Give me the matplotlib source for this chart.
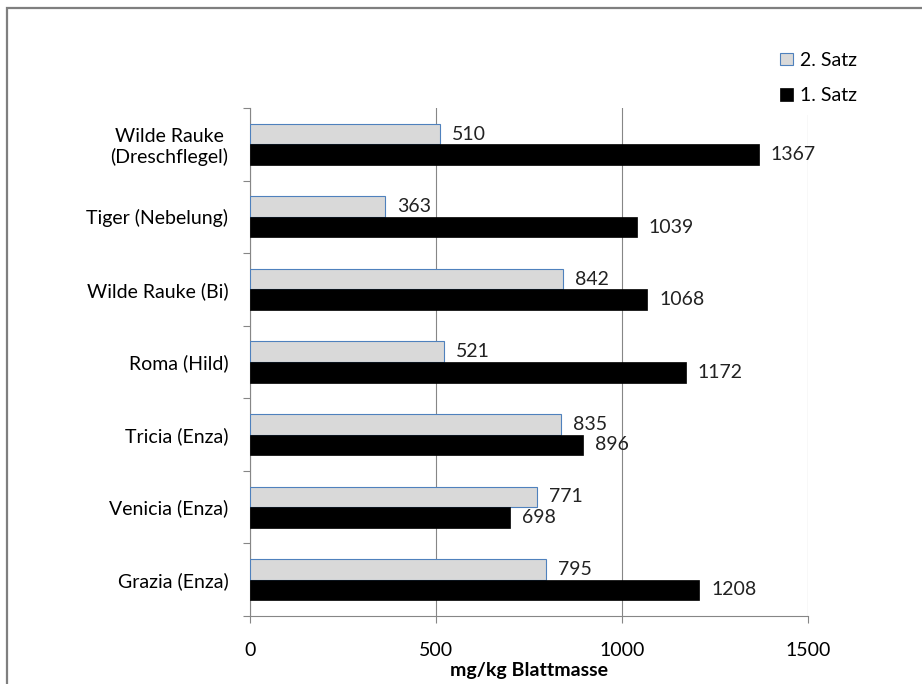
import matplotlib.pyplot as plt
import matplotlib.patches as mpatches
import numpy as np

# Sorten (von oben nach unten) und Nitratwerte in mg/kg Blattmasse
sorten = ["Wilde Rauke\n(Dreschflegel)", "Tiger (Nebelung)", "Wilde Rauke (Bi)",
          "Roma (Hild)", "Tricia (Enza)", "Venicia (Enza)", "Grazia (Enza)"]
satz2 = [510, 363, 842, 521, 835, 771, 795]
satz1 = [1367, 1039, 1068, 1172, 896, 698, 1208]
x_ticks = [0, 500, 1000, 1500]

plt.rcParams['font.family'] = ['Lato', 'DejaVu Sans']
fs = 14
axis_grey = '#868686'

W, H = 922, 684
fig = plt.figure(figsize=(W / 100, H / 100), dpi=100)
ax = fig.add_axes([250 / W, 1 - 616 / H, (808 - 250) / W, (616 - 108) / H])

# outer chart frame (only top and left edges visible)
fig.add_artist(mpatches.Rectangle((7 / W, -0.2), 1.5, 1.2 - 8 / H,
                                  transform=fig.transFigure, fill=False,
                                  edgecolor='#7f7f7f', lw=1.6, clip_on=False))

y = np.arange(len(sorten))
bw = 0.283
b2 = ax.barh(y - bw / 2, satz2, height=bw, color='#d9d9d9', edgecolor='#4f81bd',
             lw=0.8, label='2. Satz', zorder=3)
b1 = ax.barh(y + bw / 2, satz1, height=bw, color='black', edgecolor='black',
             lw=0.5, label='1. Satz', zorder=3)

# Datenbeschriftungen rechts neben den Balken
for bars, vals in [(b2, satz2), (b1, satz1)]:
    for rect, v in zip(bars, vals):
        ax.annotate(str(v), (v, rect.get_y() + rect.get_height() / 2),
                    xytext=(8.6, 0), textcoords='offset points',
                    ha='left', va='center', fontsize=fs, color='#222222', zorder=2)

ax.set_xlim(0, 1500)
ax.set_ylim(len(sorten) - 0.5, -0.5)

ax.set_xticks(x_ticks)
ax.set_xticklabels([str(t) for t in x_ticks], fontsize=fs)
ax.tick_params(axis='x', direction='out', length=5, width=0.8, color=axis_grey, pad=14)

# Teilstriche zwischen den Kategorien, Beschriftung in der Mitte
ax.set_yticks(np.arange(len(sorten) + 1) - 0.5)
ax.set_yticklabels([])
ax.set_yticks(y, minor=True)
ax.set_yticklabels(sorten, minor=True, fontsize=fs, multialignment='center')
ax.tick_params(axis='y', which='major', direction='out', length=5, width=0.8, color=axis_grey)
ax.tick_params(axis='y', which='minor', length=0, pad=15.5)

ax.grid(axis='x', color=axis_grey, lw=0.8, zorder=0)
ax.grid(axis='y', visible=False)
for s in ['top', 'right']:
    ax.spines[s].set_visible(False)
for s in ['left', 'bottom']:
    ax.spines[s].set_color(axis_grey)
    ax.spines[s].set_linewidth(0.8)

ax.set_xlabel("mg/kg Blattmasse", fontsize=fs, fontweight='bold', labelpad=2)

ax.legend(handles=[b2, b1], loc='upper left',
          bbox_to_anchor=(769 / W, 1 - 41 / H), bbox_transform=fig.transFigure,
          fontsize=fs, frameon=True, facecolor='white', edgecolor='none',
          framealpha=1, fancybox=False, borderpad=0.55, borderaxespad=0,
          labelspacing=0.95, handlelength=0.68, handleheight=0.62,
          handletextpad=0.35)

fig.savefig("out.png", dpi=100)
